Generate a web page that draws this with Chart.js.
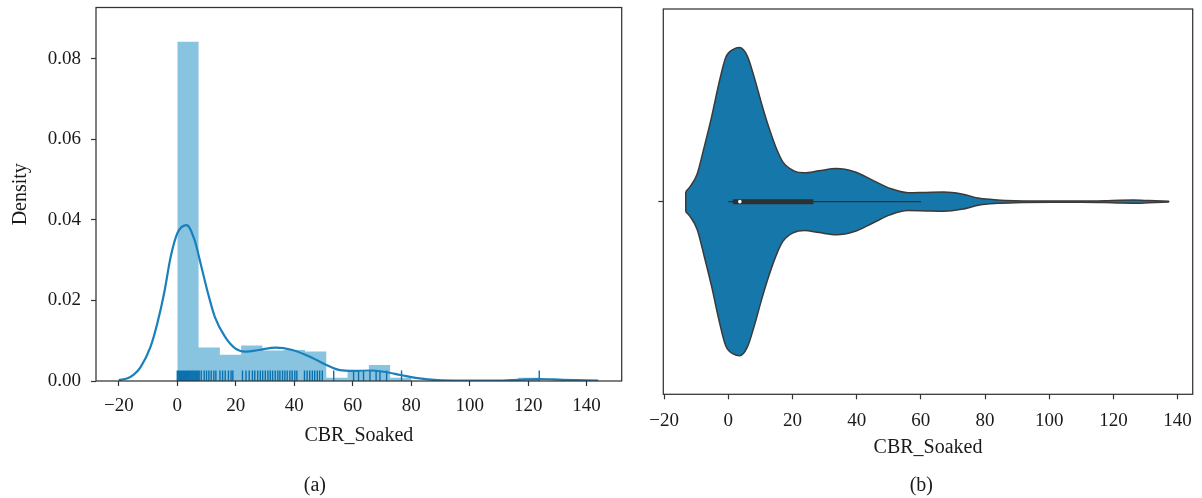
<!DOCTYPE html>
<html><head><meta charset="utf-8">
<script src="https://cdn.jsdelivr.net/npm/chart.js@4.4.1/dist/chart.umd.min.js"></script>
<style>
html,body{margin:0;padding:0;background:#fff;width:1202px;height:498px;overflow:hidden}
#ca{position:absolute;left:8px;top:0}
#cb{position:absolute;left:650px;top:0}
</style></head><body>
<canvas id="ca" width="622" height="498"></canvas>
<canvas id="cb" width="552" height="498"></canvas>
<script>
// ---------- data, panel (a) ----------
const X_TICKS = [-20, 0, 20, 40, 60, 80, 100, 120, 140];
const Y_TICKS_A = [0, 0.02, 0.04, 0.06, 0.08];
const HIST_EDGES = [0, 7.28, 14.56, 21.84, 29.12, 36.40, 43.68, 50.96, 58.24, 65.52, 72.80, 80.08, 87.36, 94.64, 101.92, 109.20, 116.48, 123.76];
const HIST_DENSITY = [0.0842, 0.0083, 0.0065, 0.0088, 0.0076, 0.0077, 0.0073, 0.0008, 0.0023, 0.0040, 0.0008, 0, 0, 0, 0, 0, 0.0008];
const KDE_X = [-20, -17, -14.9, -12.6, -9.1, -6.8, -4.5, -2.2, 0.1, 3.2, 5.9, 8.2, 10.5, 12.8, 16.3, 19.8, 23.2, 27.9, 33.6, 39.4, 45.2, 51, 55.6, 60.2, 66, 70.6, 76.4, 82.2, 89.1, 97.2, 108.8, 116.9, 123.8, 131.9, 144];
const KDE_Y = [0.0002, 0.0007, 0.0016, 0.0034, 0.0086, 0.0144, 0.0218, 0.031, 0.0368, 0.0387, 0.035, 0.0285, 0.0218, 0.016, 0.011, 0.0081, 0.0073, 0.0077, 0.0083, 0.0077, 0.0061, 0.004, 0.0027, 0.0025, 0.0026, 0.0023, 0.0015, 0.0007, 0.0002, 0.0001, 0.0001, 0.0003, 0.0005, 0.0003, 0.0001];
const RUG_VALUES = [0, 0.3, 0.7, 1, 1.3, 1.7, 2, 2.3, 2.7, 3, 3.3, 3.7, 4, 4.5, 5, 5.5, 6, 6.5, 7, 7.5, 8.2,
  9.2, 10, 10.8, 11.6, 12.5, 13.2, 14.6, 15.5, 16.4, 17.5, 18.4, 19,
  22.3, 23.5, 24.6, 25.7, 26.5, 27.5, 28.4, 29.2, 30.1, 31, 31.8, 32.6, 33.5, 34.4, 35.1, 36, 36.8, 37.6, 38.5, 39.3, 40.2, 40.9,
  43.5, 44.4, 45.3, 46.2, 47, 47.9, 48.7, 49.6, 53.5, 60.3, 62, 63.7, 65.9, 68, 69.3, 71.6, 76.7, 123.8];
// ---------- data, panel (b) ----------
const VIOLIN_X = [-13.25, -11.9, -9.7, -7.5, -5.2, -3.0, -0.8, 1.7, 3.5, 5.9, 8.1, 10.4, 12.6, 14.8, 17.0, 20.4, 23.7, 28.2, 33.7, 39.3, 44.9, 50.4, 56.0, 61.6, 67.1, 72.7, 78.3, 83.9, 89.4, 100.6, 110, 117.3, 122, 126.2, 131, 137.3];
const VIOLIN_HALF = [0.065, 0.097, 0.18, 0.355, 0.55, 0.76, 0.935, 0.99, 1.0, 0.946, 0.806, 0.634, 0.484, 0.355, 0.258, 0.2, 0.187, 0.2, 0.215, 0.194, 0.14, 0.086, 0.058, 0.06, 0.062, 0.05, 0.0215, 0.011, 0.0065, 0.004, 0.004, 0.006, 0.009, 0.01, 0.007, 0.002];
const BOX_STATS = [0, 1.4, 3.6, 26.5, 60]; // whisker low, Q1, median, Q3, whisker high

// ---------- styling ----------
const FONT = "'Liberation Serif', 'DejaVu Serif', serif";
const TXT = '#1a1a1a';
const SPINE = '#333';
const VIOLIN_SCALE = 0.4;
const RUG_HEIGHT = 0.0026;

const framePlugin = {
  id: 'frame',
  afterDraw(chart) {
    const {ctx, chartArea: a} = chart;
    ctx.save();
    ctx.strokeStyle = SPINE;
    ctx.lineWidth = 1.25;
    ctx.strokeRect(a.left, a.top, a.right - a.left, a.bottom - a.top);
    ctx.restore();
  }
};

function xAxis(min, max, height, titlePad, tickPad) {
  return {
    type: 'linear', min, max,
    afterBuildTicks: s => { s.ticks = X_TICKS.map(v => ({value: v})); },
    afterFit: s => { s.height = height; s.paddingLeft = 0; s.paddingRight = 0; },
    border: {display: false},
    grid: {drawOnChartArea: false, drawTicks: true, tickLength: 5, tickColor: SPINE, tickWidth: 1.2},
    ticks: {color: TXT, font: {family: FONT, size: 19}, padding: tickPad, maxRotation: 0, autoSkip: false,
      callback: v => String(v).replace('-', '\u2212')},
    title: {display: true, text: 'CBR_Soaked', color: TXT, font: {family: FONT, size: 20}, padding: {top: 0, bottom: titlePad}}
  };
}

// histogram as stepped outline filled to zero
const histPts = [{x: HIST_EDGES[0], y: 0}];
HIST_DENSITY.forEach((h, i) => histPts.push({x: HIST_EDGES[i], y: h}));
histPts.push({x: HIST_EDGES[HIST_EDGES.length - 1], y: 0});

const rugPts = [];
RUG_VALUES.forEach(v => { rugPts.push({x: v, y: 0}, {x: v, y: RUG_HEIGHT}, {x: v, y: null}); });

const kdePts = KDE_X.map((x, i) => ({x, y: KDE_Y[i]}));

new Chart(document.getElementById('ca'), {
  type: 'line',
  data: {datasets: [
    {data: kdePts, borderColor: '#1a80bb', borderWidth: 2.2, pointRadius: 0, cubicInterpolationMode: 'monotone', fill: false},
    {data: rugPts, borderColor: '#0a70ae', borderWidth: 1.4, pointRadius: 0, spanGaps: false, fill: false, tension: 0},
    {data: histPts, stepped: 'before', borderColor: 'rgba(0,0,0,0)', borderWidth: 0, pointRadius: 0,
      backgroundColor: '#88c4e0', fill: 'origin'}
  ]},
  options: {
    responsive: false, animation: false,
    layout: {padding: {left: 0, right: 8.3, top: 7.5, bottom: 0}},
    plugins: {
      legend: {display: false}, tooltip: {enabled: false},
      filler: {drawTime: 'beforeDatasetsDraw'},
      title: {display: true, position: 'bottom', text: '(a)', color: TXT, font: {family: FONT, size: 20, weight: 'normal'}, padding: {top: 0, bottom: 0}}
    },
    scales: {
      x: xAxis(-27.8, 152.0, 93, 26.2, 8.6),
      y: {
        type: 'linear', min: 0, max: 0.0927,
        afterBuildTicks: s => { s.ticks = Y_TICKS_A.map(v => ({value: v})); },
        afterFit: s => { s.width = 88; s.paddingTop = 0; s.paddingBottom = 0; },
        border: {display: false},
        grid: {drawOnChartArea: false, drawTicks: true, tickLength: 5, tickColor: SPINE, tickWidth: 1.2},
        ticks: {color: TXT, font: {family: FONT, size: 19}, padding: 10, callback: v => v.toFixed(2)},
        title: {display: true, text: 'Density', color: TXT, font: {family: FONT, size: 20}, padding: {top: 0.7, bottom: 0}}
      }
    }
  },
  plugins: [framePlugin]
});

// ---------- violin ----------
const upperPts = VIOLIN_X.map((x, i) => ({x, y: VIOLIN_HALF[i] * VIOLIN_SCALE}));
const lowerPts = VIOLIN_X.map((x, i) => ({x, y: -VIOLIN_HALF[i] * VIOLIN_SCALE}));
const nV = VIOLIN_X.length - 1;
const capPts = [
  {x: VIOLIN_X[0], y: VIOLIN_HALF[0] * VIOLIN_SCALE}, {x: VIOLIN_X[0], y: -VIOLIN_HALF[0] * VIOLIN_SCALE},
  {x: VIOLIN_X[0], y: null},
  {x: VIOLIN_X[nV], y: VIOLIN_HALF[nV] * VIOLIN_SCALE}, {x: VIOLIN_X[nV], y: -VIOLIN_HALF[nV] * VIOLIN_SCALE}
];
const VCOL = '#1677aa', VEDGE = '#3a3a3a';

new Chart(document.getElementById('cb'), {
  type: 'line',
  data: {datasets: [
    {data: [{x: BOX_STATS[2], y: 0}], showLine: false, pointRadius: 1.8, pointBackgroundColor: '#ffffff', pointBorderWidth: 0, fill: false},
    {data: [{x: BOX_STATS[1], y: 0}, {x: BOX_STATS[3], y: 0}], borderColor: '#2f2f2f', borderWidth: 5, borderCapStyle: 'butt', pointRadius: 0, fill: false},
    {data: [{x: BOX_STATS[0], y: 0}, {x: BOX_STATS[4], y: 0}], borderColor: '#2f2f2f', borderWidth: 1.4, borderCapStyle: 'butt', pointRadius: 0, fill: false},
    {data: capPts, borderColor: VEDGE, borderWidth: 1.5, pointRadius: 0, tension: 0, spanGaps: false, fill: false},
    {data: upperPts, borderColor: VEDGE, borderWidth: 1.5, pointRadius: 0, cubicInterpolationMode: 'monotone', backgroundColor: VCOL, fill: '+1'},
    {data: lowerPts, borderColor: VEDGE, borderWidth: 1.5, pointRadius: 0, cubicInterpolationMode: 'monotone', fill: false}
  ]},
  options: {
    responsive: false, animation: false,
    layout: {padding: {left: 0, right: 9.3, top: 9, bottom: 0}},
    plugins: {
      legend: {display: false}, tooltip: {enabled: false},
      filler: {drawTime: 'beforeDatasetsDraw'},
      title: {display: true, position: 'bottom', text: '(b)', color: TXT, font: {family: FONT, size: 20, weight: 'normal'}, padding: {top: 0, bottom: 0}}
    },
    scales: {
      x: xAxis(-20.25, 144.7, 79.7, 14.3, 10.5),
      y: {
        type: 'linear', min: -0.5, max: 0.5,
        afterBuildTicks: s => { s.ticks = [{value: 0}]; },
        afterFit: s => { s.width = 13.3; s.paddingTop = 0; s.paddingBottom = 0; },
        border: {display: false},
        grid: {drawOnChartArea: false, drawTicks: true, tickLength: 5, tickColor: SPINE, tickWidth: 1.2},
        ticks: {display: true, padding: 0, callback: () => ''}
      }
    }
  },
  plugins: [framePlugin]
});
</script>
</body></html>
